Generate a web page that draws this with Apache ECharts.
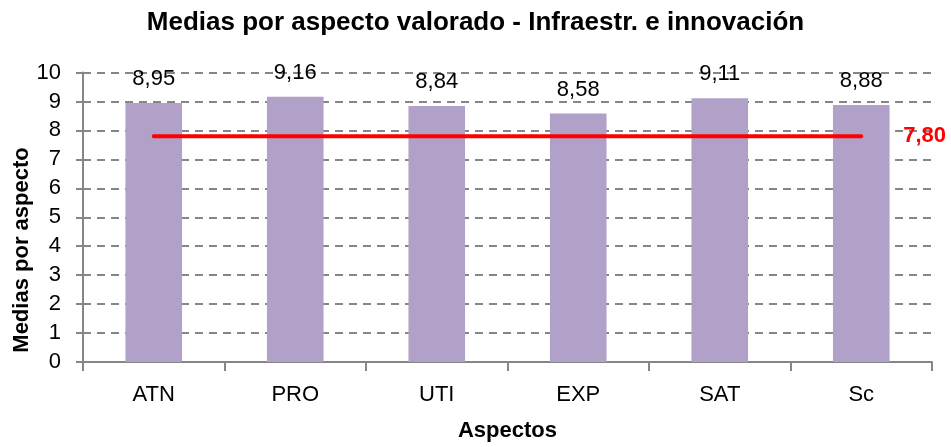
<!DOCTYPE html>
<html>
<head>
<meta charset="utf-8">
<script src="https://cdn.jsdelivr.net/npm/echarts@6/dist/echarts.min.js"></script>
<style>
  html, body { margin: 0; padding: 0; background: #fff; }
  #chart { width: 951px; height: 447px; }
</style>
</head>
<body>
<div id="chart"></div>
<script>
// Aspect categories and their mean scores
const categories = ['ATN', 'PRO', 'UTI', 'EXP', 'SAT', 'Sc'];
const means = [8.95, 9.16, 8.84, 8.58, 9.11, 8.88];
// Overall reference mean drawn across all aspects
const overallMean = 7.80;
const yTicks = [0, 10, 1]; // min, max, interval

const fmt = v => v.toFixed(2).replace('.', ',');
const font = '"Liberation Sans", Arial, sans-serif';

const chart = echarts.init(document.getElementById('chart'));
chart.setOption({
  animation: false,
  backgroundColor: '#ffffff',
  title: {
    text: 'Medias por aspecto valorado - Infraestr. e innovación',
    left: 'center',
    top: 5,
    textStyle: { fontFamily: font, fontWeight: 'bold', fontSize: 26, color: '#000' }
  },
  // vertical axis title, sitting a little below the plot's middle
  graphic: [{
    type: 'text',
    x: 22,
    y: 250,
    rotation: Math.PI / 2,
    style: {
      text: 'Medias por aspecto',
      fontFamily: font,
      fontWeight: 'bold',
      fontSize: 22,
      fill: '#000',
      align: 'center',
      verticalAlign: 'middle'
    }
  }],
  grid: { left: 83, right: 19, top: 72.5, bottom: 85, containLabel: false },
  xAxis: {
    type: 'category',
    data: categories,
    name: 'Aspectos',
    nameLocation: 'middle',
    nameGap: 58,
    nameTextStyle: { fontFamily: font, fontWeight: 'bold', fontSize: 22, color: '#000' },
    axisLine: { lineStyle: { color: '#868686', width: 2 } },
    axisTick: { show: true, length: 9, lineStyle: { color: '#868686', width: 2 } },
    axisLabel: { fontFamily: font, fontSize: 22, color: '#000', margin: 22 },
    splitLine: { show: false }
  },
  yAxis: {
    type: 'value',
    min: yTicks[0],
    max: yTicks[1],
    interval: yTicks[2],
    axisLine: { show: true, lineStyle: { color: '#868686', width: 2 } },
    axisTick: { show: true, length: 7, lineStyle: { color: '#868686', width: 2 } },
    axisLabel: { fontFamily: font, fontSize: 22, color: '#000', margin: 22 },
    splitLine: { show: true, lineStyle: { color: '#868686', width: 2, type: [8, 6] } }
  },
  series: [
    {
      type: 'bar',
      data: means,
      barWidth: '40%',
      itemStyle: { color: '#B1A0C7' },
      label: {
        show: true,
        position: 'top',
        distance: 13,
        formatter: p => fmt(p.value),
        fontFamily: font,
        fontSize: 22,
        color: '#000'
      }
    },
    {
      type: 'line',
      data: categories.map(() => overallMean),
      symbol: 'none',
      lineStyle: { color: '#FF0000', width: 4, cap: 'round' },
      z: 5,
      endLabel: {
        show: true,
        formatter: () => fmt(overallMean),
        distance: 42,
        fontFamily: font,
        fontWeight: 'bold',
        fontSize: 22,
        color: '#FF0000'
      }
    }
  ]
});
</script>
</body>
</html>
